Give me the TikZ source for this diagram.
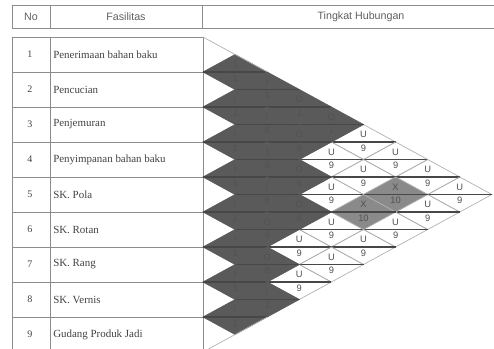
\documentclass[tikz,border=0pt]{standalone}
\usepackage{fontspec}
\setmainfont{Liberation Serif}
\setsansfont{Liberation Sans}
\definecolor{tblgray}{RGB}{140,140,140}
\definecolor{cellgray}{RGB}{175,175,175}
\definecolor{darkcell}{RGB}{90,90,90}
\definecolor{xgray}{RGB}{138,138,138}
\definecolor{hdrtext}{RGB}{95,95,95}
\definecolor{bodytext}{RGB}{65,65,65}
\definecolor{tagtext}{RGB}{80,80,80}

\begin{document}
\begin{tikzpicture}[x=0.75pt, y=-0.75pt,
  tbl/.style={draw=tblgray, line width=0.7pt},
  hdr/.style={font=\sffamily\fontsize{8}{10}\selectfont, text=hdrtext},
  numtxt/.style={font=\fontsize{7.5}{9}\selectfont, text=bodytext},
  fastxt/.style={font=\fontsize{8.2}{10}\selectfont, text=bodytext, anchor=west, inner sep=0pt},
  cell/.style={draw=cellgray, line width=0.5pt},
  dark/.style={fill=darkcell, draw=darkcell, line width=0.5pt},
  xcell/.style={cell, fill=xgray},
  mid/.style={draw=black!72, line width=0.8pt},
  tag/.style={font=\sffamily\fontsize{7}{8}\selectfont, text=tagtext, inner sep=0pt},
  dtag/.style={tag, text=black!68}]

\useasboundingbox (0,0) rectangle (494,349);

\draw[tbl] (12,5) rectangle (497,28);
\draw[tbl] (50,5) -- (50,28) (202,5) -- (202,28);
\node[hdr] (hno) at (31,16.5) {No};
\node[hdr] (hfas) at (126,16.5) {Fasilitas};
\node[hdr] (hting) at (361,16.5) {Tingkat Hubungan};

\draw[tbl] (12,37) rectangle (203,352);
\draw[tbl] (50,37) -- (50,352);
\foreach \k in {1,...,8}
  \draw[tbl] (12,{37+35*\k}) -- (203,{37+35*\k});
\foreach \k/\fname in {1/Penerimaan bahan baku, 2/Pencucian, 3/Penjemuran,
    4/Penyimpanan bahan baku, 5/SK. Pola, 6/SK. Rotan, 7/SK. Rang,
    8/SK. Vernis, 9/Gudang Produk Jadi} {
  \node[numtxt] (no\k) at (30,{37+35*\k-17.5}) {\k};
  \node[fastxt] (fas\k) at (53,{37+35*\k-17.5}) {\fname};
}

\foreach \i/\j/\r/\n/\s/\t in {1/6/U/9/cell/tag, 1/7/U/9/cell/tag, 1/8/U/9/cell/tag,
    1/9/U/9/cell/tag, 2/6/U/9/cell/tag, 2/7/U/9/cell/tag, 2/9/U/9/cell/tag,
    3/7/U/9/cell/tag, 3/9/U/9/cell/tag, 4/8/U/9/cell/tag, 4/9/U/9/cell/tag,
    5/8/U/9/cell/tag, 5/9/U/9/cell/tag, 6/9/U/9/cell/tag,
    2/8/X/10/xcell/tag, 3/8/X/10/xcell/tag,
    1/2/I/1/dark/dtag, 1/3/I/1/dark/dtag, 1/4/O/1/dark/dtag, 1/5/O/1/dark/dtag,
    2/3/I/1/dark/dtag, 2/4/I/8/dark/dtag, 2/5/O/9/dark/dtag, 3/4/I/1/dark/dtag,
    3/5/I/8/dark/dtag, 3/6/O/8/dark/dtag, 4/5/I/1/dark/dtag, 4/6/I/8/dark/dtag,
    4/7/O/8/dark/dtag, 5/6/I/1/dark/dtag, 5/7/O/8/dark/dtag, 6/7/I/1/dark/dtag,
    6/8/O/8/dark/dtag, 7/8/I/1/dark/dtag, 7/9/I/1/dark/dtag, 8/9/I/1/dark/dtag} {
  \coordinate (c\i\j) at ({203+(\j-\i)*32.1},{37+17.5*(\i+\j-1)});
  \path[\s] (c\i\j) +(-32.1,0) -- +(0,-17.5) -- +(32.1,0) -- +(0,17.5) -- cycle;
  \draw[mid] (c\i\j) +(-32.1,0) -- +(32.1,0);
  \node[\t] at ([yshift=5.5pt]c\i\j) {\r};
  \node[\t] at ([yshift=-4.5pt]c\i\j) {\n};
}

\coordinate (ttop) at (203,37);
\coordinate (tbot) at (203,352);
\draw[cellgray, line width=0.5pt] (ttop) -- ([xshift=24.075pt]c12) (tbot) -- ([xshift=24.075pt]c89);
\end{tikzpicture}
\end{document}
